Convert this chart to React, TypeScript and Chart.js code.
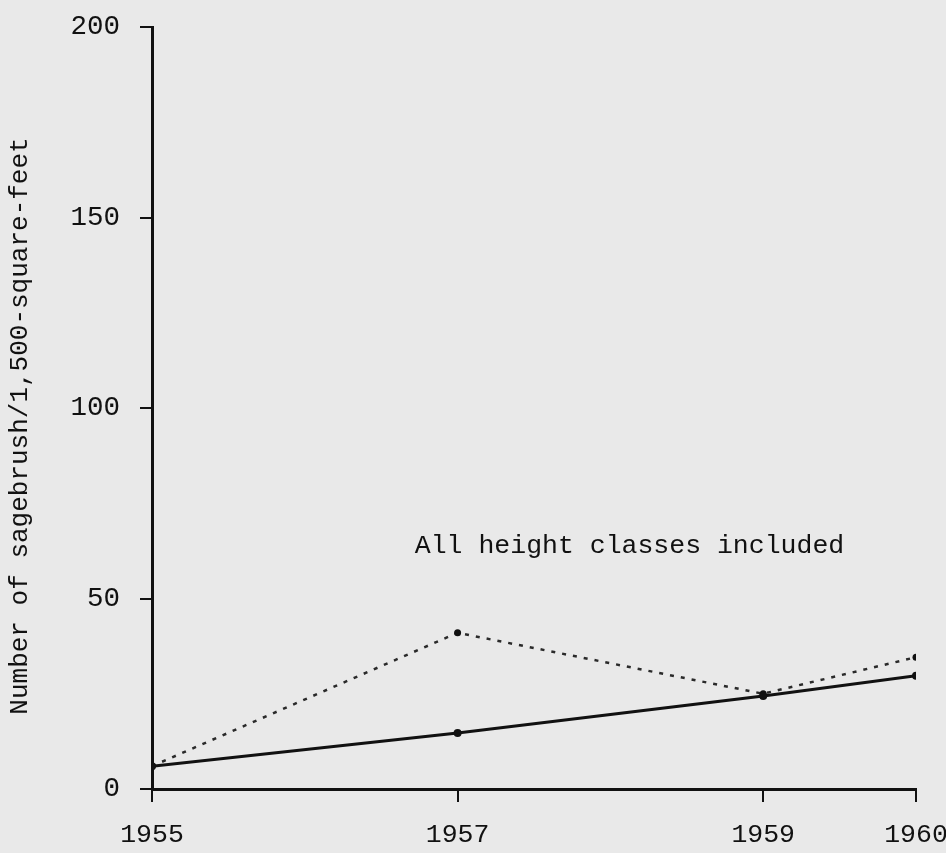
import React, { useEffect, useRef } from "react";
import { Chart, registerables } from "chart.js";

Chart.register(...registerables);

const YEARS = [1955, 1957, 1959, 1960];
const SOLID_VALUES = [6, 14.7, 24.4, 29.7];
const DOTTED_VALUES = [6, 41, 25, 34.6];
const Y_TICKS = [0, 50, 100, 150, 200];
const Y_TITLE = "Number of sagebrush/1,500-square-feet";
const NOTE_TEXT = "All height classes included";
const NOTE_X = 1956.72;
const NOTE_Y = 62;

const INK = "#111111";
const FONT = "'Liberation Mono', 'DejaVu Sans Mono', monospace";

export default function App() {
  const ref = useRef<HTMLCanvasElement | null>(null);

  useEffect(() => {
    document.body.style.margin = "0";
    document.body.style.background = "#e9e9e9";
    const canvas = ref.current;
    if (!canvas) return;

    const textPlugin = {
      id: "extraText",
      afterDraw(chart: any) {
        const ctx = chart.ctx;
        const xs = chart.scales.x;
        const ys = chart.scales.y;
        ctx.save();
        ctx.fillStyle = INK;
        ctx.font = `26.5px ${FONT}`;
        ctx.textAlign = "left";
        ctx.textBaseline = "alphabetic";
        ctx.fillText(NOTE_TEXT, xs.getPixelForValue(NOTE_X), ys.getPixelForValue(NOTE_Y));
        // y axis title
        ctx.font = `26px ${FONT}`;
        const cy = (chart.chartArea.top + chart.chartArea.bottom) / 2 + 18;
        ctx.translate(20, cy);
        ctx.rotate(-Math.PI / 2);
        ctx.textAlign = "center";
        ctx.textBaseline = "middle";
        ctx.fillText(Y_TITLE, 0, 0);
        ctx.restore();
      },
    };

    const chart = new Chart(canvas, {
      type: "line",
      data: {
        datasets: [
          {
            label: "solid",
            data: YEARS.map((x, i) => ({ x, y: SOLID_VALUES[i] })),
            borderColor: INK,
            backgroundColor: INK,
            borderWidth: 3,
            pointRadius: 4,
            pointBorderWidth: 0,
            tension: 0,
          },
          {
            label: "dotted",
            data: YEARS.map((x, i) => ({ x, y: DOTTED_VALUES[i] })),
            borderColor: "#2a2a2a",
            backgroundColor: INK,
            borderWidth: 2.5,
            borderDash: [4, 7],
            pointRadius: 3.5,
            pointBorderWidth: 0,
            tension: 0,
          },
        ],
      },
      options: {
        responsive: false,
        animation: false,
        layout: { padding: { top: 27, right: 30, left: 0, bottom: 0 } },
        plugins: {
          legend: { display: false },
          tooltip: { enabled: false },
        },
        scales: {
          x: {
            type: "linear",
            min: YEARS[0],
            max: YEARS[YEARS.length - 1],
            afterBuildTicks: (scale: any) => {
              scale.ticks = YEARS.map((v) => ({ value: v }));
            },
            afterFit: (scale: any) => {
              scale.height = 64;
              scale.paddingLeft = 0;
              scale.paddingRight = 0;
            },
            ticks: {
              autoSkip: false,
              maxRotation: 0,
              padding: 17,
              color: INK,
              font: { family: FONT, size: 26.5 },
              callback: (v: any) => String(v),
            },
            grid: {
              display: true,
              drawOnChartArea: false,
              drawTicks: true,
              tickLength: 13,
              color: INK,
              lineWidth: 2,
            },
            border: { display: true, color: INK, width: 3 },
          },
          y: {
            type: "linear",
            min: Y_TICKS[0],
            max: Y_TICKS[Y_TICKS.length - 1],
            afterBuildTicks: (scale: any) => {
              scale.ticks = Y_TICKS.map((v) => ({ value: v }));
            },
            afterFit: (scale: any) => {
              scale.width = 152;
              scale.paddingTop = 0;
              scale.paddingBottom = 0;
            },
            ticks: {
              padding: 20,
              color: INK,
              font: { family: FONT, size: 27.5 },
              callback: (v: any) => String(v),
            },
            grid: {
              display: true,
              drawOnChartArea: false,
              drawTicks: true,
              tickLength: 12,
              color: INK,
              lineWidth: 2,
            },
            border: { display: true, color: INK, width: 3 },
          },
        },
      },
      plugins: [textPlugin],
    });

    return () => chart.destroy();
  }, []);

  return (
    <div style={{ width: 946, height: 853, background: "#e9e9e9" }}>
      <canvas ref={ref} width={946} height={853} style={{ display: "block" }} />
    </div>
  );
}
